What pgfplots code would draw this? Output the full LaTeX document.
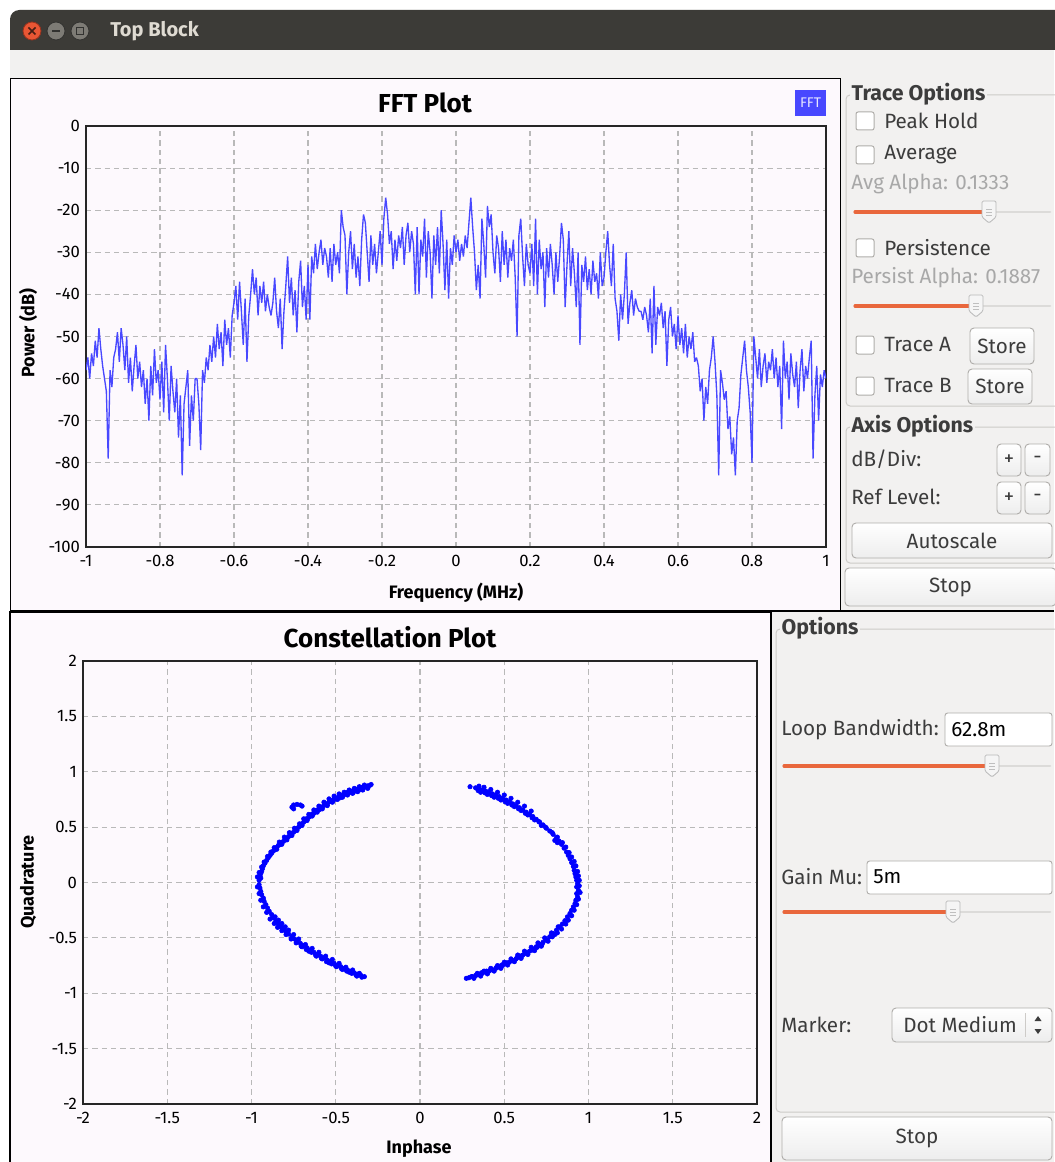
\documentclass[border=0pt]{standalone}
\usepackage{pgfplots}
\usepackage{pgfplotstable}
\pgfplotsset{compat=1.18}
\usepackage{fontspec}
\setmainfont{Fira Sans}
\definecolor{titlebar}{RGB}{60,59,55}
\definecolor{winbg}{RGB}{242,241,240}
\definecolor{plotbg}{RGB}{253,249,253}
\definecolor{gridc}{RGB}{185,185,185}
\definecolor{fftblue}{RGB}{72,72,255}
\definecolor{ubuorange}{RGB}{233,103,60}
\definecolor{txt}{RGB}{60,60,60}
\definecolor{dimtxt}{RGB}{168,168,168}
\definecolor{gbox}{RGB}{205,203,200}
\definecolor{btnb}{RGB}{175,173,170}
\definecolor{closered}{RGB}{232,86,52}
\definecolor{closeedge}{RGB}{150,50,30}
\definecolor{closex}{RGB}{70,30,20}
\definecolor{wbtn}{RGB}{125,123,117}
\definecolor{wbtnedge}{RGB}{50,50,48}
\definecolor{titletext}{RGB}{223,219,210}
\definecolor{fftlegtext}{RGB}{230,230,255}

\pgfplotstableread[row sep=\\]{
p\\
-58\\ -55\\ -60\\ -54\\ -57\\ -51\\ -55\\ -48\\ -53\\ -57\\
-60\\ -63\\ -79\\ -58\\ -62\\ -55\\ -53\\ -49\\ -56\\ -48\\
-52\\ -58\\ -50\\ -61\\ -55\\ -63\\ -57\\ -52\\ -60\\ -56\\
-62\\ -58\\ -66\\ -60\\ -70\\ -57\\ -64\\ -53\\ -61\\ -58\\
-65\\ -56\\ -68\\ -52\\ -60\\ -70\\ -57\\ -63\\ -68\\ -60\\
-74\\ -64\\ -83\\ -66\\ -62\\ -58\\ -76\\ -64\\ -70\\ -60\\
-60\\ -66\\ -77\\ -58\\ -61\\ -55\\ -58\\ -52\\ -56\\ -50\\
-55\\ -47\\ -53\\ -49\\ -57\\ -46\\ -52\\ -48\\ -55\\ -45\\
-42\\ -38\\ -46\\ -37\\ -44\\ -52\\ -41\\ -56\\ -45\\ -40\\
-34\\ -40\\ -36\\ -45\\ -38\\ -42\\ -37\\ -44\\ -40\\ -43\\
-45\\ -42\\ -36\\ -44\\ -48\\ -41\\ -53\\ -44\\ -38\\ -31\\
-42\\ -36\\ -45\\ -39\\ -49\\ -37\\ -32\\ -43\\ -38\\ -46\\
-33\\ -46\\ -31\\ -35\\ -28\\ -34\\ -30\\ -27\\ -33\\ -29\\
-31\\ -36\\ -29\\ -37\\ -28\\ -33\\ -30\\ -35\\ -20\\ -24\\
-26\\ -40\\ -30\\ -25\\ -34\\ -28\\ -36\\ -31\\ -38\\ -27\\
-21\\ -23\\ -30\\ -37\\ -26\\ -33\\ -28\\ -35\\ -30\\ -25\\
-33\\ -22\\ -17\\ -21\\ -28\\ -25\\ -34\\ -27\\ -32\\ -26\\
-29\\ -24\\ -33\\ -26\\ -23\\ -30\\ -25\\ -28\\ -40\\ -24\\
-40\\ -27\\ -31\\ -22\\ -36\\ -25\\ -30\\ -41\\ -26\\ -33\\
-24\\ -35\\ -20\\ -28\\ -39\\ -27\\ -41\\ -29\\ -33\\ -26\\
-30\\ -27\\ -32\\ -28\\ -31\\ -26\\ -29\\ -23\\ -17\\ -24\\
-30\\ -39\\ -33\\ -41\\ -22\\ -28\\ -36\\ -19\\ -24\\ -21\\
-30\\ -35\\ -26\\ -29\\ -37\\ -25\\ -33\\ -27\\ -36\\ -29\\
-32\\ -27\\ -36\\ -50\\ -26\\ -22\\ -31\\ -38\\ -28\\ -33\\
-35\\ -28\\ -38\\ -22\\ -40\\ -27\\ -34\\ -30\\ -43\\ -29\\
-36\\ -28\\ -33\\ -40\\ -30\\ -37\\ -31\\ -23\\ -27\\ -43\\
-33\\ -25\\ -38\\ -29\\ -35\\ -43\\ -30\\ -52\\ -33\\ -37\\
-31\\ -39\\ -34\\ -40\\ -32\\ -37\\ -35\\ -41\\ -30\\ -38\\
-36\\ -30\\ -25\\ -33\\ -38\\ -28\\ -41\\ -44\\ -51\\ -40\\
-46\\ -40\\ -30\\ -47\\ -42\\ -39\\ -45\\ -41\\ -43\\ -44\\
-44\\ -46\\ -43\\ -45\\ -49\\ -41\\ -54\\ -38\\ -52\\ -43\\
-45\\ -42\\ -48\\ -44\\ -57\\ -46\\ -43\\ -50\\ -47\\ -53\\
-45\\ -52\\ -48\\ -54\\ -47\\ -55\\ -50\\ -53\\ -49\\ -56\\
-55\\ -57\\ -63\\ -60\\ -70\\ -62\\ -66\\ -58\\ -55\\ -50\\
-56\\ -64\\ -83\\ -58\\ -61\\ -65\\ -63\\ -72\\ -69\\ -78\\
-74\\ -83\\ -70\\ -67\\ -59\\ -55\\ -51\\ -58\\ -62\\ -68\\
-80\\ -50\\ -55\\ -60\\ -53\\ -62\\ -57\\ -54\\ -61\\ -56\\
-58\\ -53\\ -60\\ -55\\ -62\\ -57\\ -72\\ -51\\ -60\\ -56\\
-65\\ -54\\ -59\\ -62\\ -56\\ -67\\ -58\\ -53\\ -63\\ -57\\
-60\\ -55\\ -51\\ -79\\ -64\\ -57\\ -70\\ -59\\ -62\\ -58\\
-60\\
}\ffttable

\tikzset{
  lbl/.style={anchor=west, inner sep=0pt, text=txt, font=\fontsize{15.5}{17}\selectfont},
  lblb/.style={anchor=west, inner sep=1pt, text=txt, fill=winbg, font=\bfseries\fontsize{16}{18}\selectfont},
  dim/.style={anchor=west, inner sep=0pt, text=dimtxt, font=\fontsize{15.5}{17}\selectfont},
  ttl/.style={font=\bfseries\fontsize{19.5}{22}\selectfont, text=black},
  axl/.style={font=\bfseries\fontsize{13.5}{15}\selectfont, text=black},
}
\newcommand\chk[1]{\draw[rounded corners=1.5pt, draw=btnb, fill=white, line width=0.75pt] (856,#1-9) rectangle (874,#1+9);}
\newcommand\slider[4]{%
  \draw[line cap=round, line width=2.2pt, color=gbox!70] (#2,#1) -- (#3,#1);
  \draw[line cap=round, line width=2.4pt, color=ubuorange] (#2,#1) -- (#4,#1);
  \filldraw[fill=gray!8, draw=gray!55, line width=0.6pt, rounded corners=1pt] (#4-7,#1-11) -- (#4+7,#1-11) -- (#4+7,#1+5) -- (#4,#1+11) -- (#4-7,#1+5) -- cycle;
  \draw[gray!50, line width=0.4pt] (#4-3,#1-3) -- (#4+3,#1-3) (#4-3,#1) -- (#4+3,#1) (#4-3,#1+3) -- (#4+3,#1+3);}
\newcommand\btn[5]{%
  \draw[draw=btnb, line width=0.7pt, rounded corners=3pt, top color=white, bottom color=gray!14] (#1,#2) rectangle (#3,#4);
  \node[text=txt, inner sep=0pt, font=\fontsize{15.5}{17}\selectfont] at ({(#1+#3)/2},{(#2+#4)/2}) {#5};}

\begin{document}
\begin{tikzpicture}
\begin{scope}[x=0.75pt,y=-0.75pt]
\useasboundingbox (0,0) rectangle (1054,1162);
\fill[white] (0,0) rectangle (1054,1162);
\fill[winbg] (10,45) rectangle (1054,1162);
% title bar
\fill[titlebar] (10,50) [rounded corners=7pt] -- (10,10) -- (1070,10) [sharp corners] -- (1070,50) -- cycle;
\filldraw[fill=closered, draw=closeedge, line width=0.6pt] (32,31) circle (9);
\draw[closex, line width=1.2pt] (28.5,27.5) -- (35.5,34.5) (28.5,34.5) -- (35.5,27.5);
\filldraw[fill=wbtn, draw=wbtnedge, line width=0.6pt] (56,31) circle (9);
\draw[wbtnedge, line width=1.3pt] (52,31) -- (60,31);
\filldraw[fill=wbtn, draw=wbtnedge, line width=0.6pt] (80,31) circle (9);
\draw[wbtnedge, line width=1pt] (76.5,27.5) rectangle (83.5,34.5);
\node[anchor=west, inner sep=0pt, text=titletext, font=\bfseries\fontsize{15}{17}\selectfont] at (110,31) {Top Block};
% widgets
\filldraw[fill=plotbg, draw=black, line width=0.75pt] (10,79) rectangle (840,610);
\filldraw[fill=plotbg, draw=black, line width=1.5pt] (10,612) rectangle (771,1164);
\draw[black, line width=1.5pt] (10,611) -- (1054,611);
% FFT texts
\node[ttl] at (425,103) {FFT Plot};
\fill[fftblue] (795,90) rectangle (826,116);
\node[text=fftlegtext, inner sep=0pt, font=\fontsize{10.5}{12}\selectfont] at (810.5,103) {FFT};
\node[axl, rotate=90] at (28,333) {Power (dB)};
\node[axl] at (456,593) {Frequency (MHz)};
% Constellation texts
\node[ttl] at (390,637) {Constellation Plot};
\node[axl, rotate=90] at (28,882) {Quadrature};
\node[axl] at (419,1149) {Inphase};
% Trace options panel
\draw[gbox, rounded corners=3pt, line width=0.75pt] (846,95) rectangle (1062,406);
\node[lblb] at (850,94) {Trace Options};
\chk{121} \node[lbl] at (884,121) {Peak Hold};
\chk{155} \node[lbl] at (884,155) {Average};
\node[dim] at (851,184) {Avg Alpha: 0.1333};
\slider{212}{855}{1050}{989}
\chk{248} \node[lbl] at (884,248) {Persistence};
\node[dim] at (851,278) {Persist Alpha: 0.1887};
\slider{306}{855}{1050}{976}
\chk{345} \node[lbl] at (884,345) {Trace A};
\btn{970}{328}{1034}{364}{Store}
\chk{386} \node[lbl] at (884,386) {Trace B};
\btn{968}{369}{1032}{404}{Store}
\draw[gbox, rounded corners=3pt, line width=0.75pt] (846,427) rectangle (1062,563);
\node[lblb] at (850,426) {Axis Options};
\node[lbl] at (851,459) {dB/Div:};
\btn{997}{444}{1021}{476}{+}
\btn{1025}{444}{1050}{476}{-}
\node[lbl] at (851,497) {Ref Level:};
\btn{997}{482}{1021}{514}{+}
\btn{1025}{482}{1050}{514}{-}
\btn{852}{523}{1052}{558}{Autoscale}
\btn{845}{568}{1056}{606}{Stop}
% Options panel
\draw[gbox, rounded corners=3pt, line width=0.75pt] (776,629) rectangle (1062,1112);
\node[lblb] at (780,628) {Options};
\node[lbl] at (781,730) {Loop Bandwidth:};
\draw[btnb, fill=white, rounded corners=2pt, line width=0.7pt] (945,713) rectangle (1052,746);
\node[lbl, text=black] at (951,730) {62.8m};
\slider{766}{784}{1050}{992}
\node[lbl] at (781,877) {Gain Mu:};
\draw[btnb, fill=white, rounded corners=2pt, line width=0.7pt] (867,861) rectangle (1052,894);
\node[lbl, text=black] at (873,877) {5m};
\slider{912}{784}{1050}{953}
\node[lbl] at (781,1025) {Marker:};
\btn{892}{1008}{1052}{1042}{}
\node[lbl] at (903,1025) {Dot Medium};
\draw[gbox, line width=0.6pt] (1025,1013) -- (1025,1037);
\fill[txt] (1034.5,1021) -- (1041.5,1021) -- (1038,1016) -- cycle;
\fill[txt] (1034.5,1029) -- (1041.5,1029) -- (1038,1034) -- cycle;
\btn{782}{1117}{1052}{1160}{Stop}
\end{scope}

\begin{axis}[
  at={(64.5pt,-94.5pt)}, anchor=north west, scale only axis,
  width=555pt, height=315.75pt,
  xmin=-1, xmax=1, ymin=-100, ymax=0,
  xtick={-1,-0.8,-0.6,-0.4,-0.2,0,0.2,0.4,0.6,0.8,1},
  ytick={-100,-90,-80,-70,-60,-50,-40,-30,-20,-10,0},
  grid=major,
  major grid style={gridc, dash pattern=on 4pt off 3pt, line width=0.8pt},
  axis line style={black!85, line width=1.3pt},
  major tick length=0pt,
  tick label style={font=\fontsize{12.5}{14}\selectfont, text=black},
  xticklabel style={yshift=-2.5pt},
  yticklabel style={xshift=-1pt},
  /pgf/number format/assume math mode=true,
]
\addplot[fftblue, line width=1pt, line join=bevel, mark=none] table[x expr=\coordindex*0.005-1, y=p] {\ffttable};
\end{axis}

\begin{axis}[
  at={(62.25pt,-495.75pt)}, anchor=north west, scale only axis,
  width=505.5pt, height=332.25pt,
  xmin=-2, xmax=2, ymin=-2, ymax=2,
  xtick={-2,-1.5,-1,-0.5,0,0.5,1,1.5,2},
  ytick={-2,-1.5,-1,-0.5,0,0.5,1,1.5,2},
  grid=major,
  major grid style={gridc, dash pattern=on 4pt off 3pt, line width=0.8pt},
  axis line style={black!85, line width=1.3pt},
  major tick length=0pt,
  tick label style={font=\fontsize{12.5}{14}\selectfont, text=black},
  xticklabel style={yshift=-2.5pt},
  yticklabel style={xshift=-1pt},
  /pgf/number format/assume math mode=true,
]
\addplot[only marks, mark=*, mark size=1.7pt, color=blue, mark options={draw=none, fill=blue}] coordinates {
(-0.29,0.885) (-0.30,0.875) (-0.31,0.872) (-0.32,0.868) (-0.33,0.860) (-0.34,0.862) (-0.35,0.850) (-0.36,0.848) (-0.37,0.840) (-0.38,0.842)
(-0.39,0.830) (-0.40,0.826) (-0.41,0.822) (-0.42,0.812) (-0.43,0.815) (-0.44,0.800) (-0.45,0.797) (-0.46,0.790) (-0.47,0.775) (-0.48,0.780)
(-0.49,0.765) (-0.50,0.755) (-0.51,0.760) (-0.52,0.740) (-0.53,0.735) (-0.54,0.728) (-0.55,0.712) (-0.56,0.705) (-0.57,0.698) (-0.58,0.682)
(-0.59,0.676) (-0.60,0.662) (-0.61,0.655) (-0.62,0.640) (-0.63,0.628) (-0.64,0.618) (-0.65,0.600) (-0.66,0.590) (-0.67,0.570) (-0.68,0.560)
(-0.69,0.545) (-0.70,0.530) (-0.71,0.515) (-0.72,0.500) (-0.73,0.486) (-0.74,0.470) (-0.75,0.455) (-0.76,0.440) (-0.77,0.425) (-0.78,0.415)
(-0.79,0.400) (-0.80,0.386) (-0.81,0.372) (-0.82,0.360) (-0.83,0.345) (-0.84,0.335) (-0.85,0.318) (-0.86,0.300) (-0.87,0.285) (-0.88,0.265)
(-0.89,0.245) (-0.90,0.225) (-0.91,0.200) (-0.92,0.175) (-0.93,0.150) (-0.935,0.125) (-0.94,0.100) (-0.945,0.080) (-0.95,0.060) (-0.945,0.040) (-0.955,0.020)
(-0.31,0.85) (-0.34,0.835) (-0.37,0.82) (-0.40,0.805) (-0.43,0.79) (-0.46,0.77) (-0.49,0.75) (-0.52,0.725) (-0.55,0.695) (-0.58,0.665)
(-0.61,0.635) (-0.64,0.600) (-0.67,0.560) (-0.70,0.515) (-0.73,0.470) (-0.76,0.425) (-0.79,0.385) (-0.82,0.345) (-0.85,0.300)
(-0.33,0.88) (-0.36,0.865) (-0.39,0.85) (-0.42,0.835) (-0.45,0.815) (-0.48,0.80) (-0.51,0.78) (-0.54,0.755) (-0.57,0.725) (-0.60,0.690)
(-0.63,0.655) (-0.66,0.615) (-0.69,0.575)
(-0.315,0.86) (-0.355,0.838) (-0.395,0.815) (-0.435,0.795) (-0.475,0.765) (-0.515,0.74) (-0.555,0.70) (-0.595,0.66) (-0.635,0.615) (-0.675,0.575)
(-0.715,0.53) (-0.745,0.49) (-0.775,0.45) (-0.805,0.41) (-0.835,0.365) (-0.865,0.315) (-0.885,0.275) (-0.905,0.235) (-0.925,0.185) (-0.94,0.14)
(-0.955,0.09) (-0.965,0.05)
(-0.76,0.68) (-0.75,0.70) (-0.73,0.705) (-0.71,0.70) (-0.70,0.69) (-0.75,0.665)
(-0.955,-0.02) (-0.95,-0.05) (-0.945,-0.08) (-0.94,-0.11) (-0.93,-0.14) (-0.925,-0.17) (-0.915,-0.20) (-0.905,-0.23) (-0.895,-0.26) (-0.88,-0.29)
(-0.87,-0.32) (-0.855,-0.35) (-0.84,-0.375) (-0.825,-0.40) (-0.81,-0.42) (-0.795,-0.445) (-0.78,-0.465) (-0.76,-0.49) (-0.745,-0.51) (-0.73,-0.53)
(-0.71,-0.55) (-0.69,-0.57) (-0.67,-0.59) (-0.65,-0.61) (-0.63,-0.63) (-0.61,-0.65) (-0.59,-0.665) (-0.57,-0.68) (-0.55,-0.70) (-0.53,-0.715)
(-0.51,-0.73) (-0.49,-0.745) (-0.47,-0.76) (-0.45,-0.775) (-0.43,-0.79) (-0.41,-0.805) (-0.39,-0.815) (-0.37,-0.83) (-0.35,-0.84) (-0.33,-0.85)
(-0.86,-0.31) (-0.84,-0.34) (-0.82,-0.37) (-0.80,-0.40) (-0.78,-0.43) (-0.75,-0.47) (-0.72,-0.51)
(-0.70,-0.58) (-0.66,-0.62) (-0.62,-0.655) (-0.58,-0.69) (-0.54,-0.725) (-0.50,-0.755) (-0.46,-0.785) (-0.42,-0.81) (-0.38,-0.835)
(-0.68,-0.56) (-0.64,-0.595) (-0.60,-0.63) (-0.56,-0.665) (-0.52,-0.695) (-0.48,-0.73) (-0.44,-0.765) (-0.40,-0.79) (-0.36,-0.82)
(-0.965,-0.04) (-0.955,-0.10) (-0.945,-0.16) (-0.93,-0.22) (-0.91,-0.27) (-0.89,-0.33) (-0.865,-0.37) (-0.845,-0.405) (-0.82,-0.435) (-0.795,-0.47)
(-0.765,-0.51) (-0.735,-0.545) (-0.705,-0.575) (-0.675,-0.605) (-0.645,-0.63) (-0.615,-0.665) (-0.585,-0.685) (-0.555,-0.715) (-0.525,-0.735) (-0.495,-0.76)
(-0.465,-0.78) (-0.435,-0.80) (-0.405,-0.82) (-0.375,-0.845) (-0.345,-0.855)
(0.297,0.865)
(0.33,0.855) (0.35,0.845) (0.37,0.835) (0.39,0.825) (0.41,0.815) (0.43,0.80) (0.45,0.79) (0.47,0.775) (0.49,0.76) (0.51,0.745)
(0.53,0.73) (0.55,0.71) (0.57,0.695) (0.59,0.675) (0.61,0.655) (0.63,0.635) (0.65,0.615) (0.67,0.595) (0.69,0.57) (0.71,0.545)
(0.73,0.52) (0.75,0.49) (0.77,0.465) (0.79,0.435) (0.81,0.405) (0.825,0.375) (0.84,0.345) (0.855,0.31) (0.87,0.275) (0.88,0.245)
(0.89,0.215) (0.90,0.18) (0.91,0.145) (0.915,0.11) (0.92,0.08) (0.925,0.05) (0.93,0.02)
(0.36,0.815) (0.40,0.795) (0.44,0.77) (0.48,0.745) (0.52,0.715) (0.56,0.685) (0.60,0.65) (0.64,0.61) (0.68,0.565) (0.72,0.515)
(0.35,0.87) (0.38,0.86) (0.42,0.84) (0.46,0.815) (0.50,0.79) (0.54,0.76) (0.58,0.725) (0.62,0.69) (0.66,0.645)
(0.80,0.38) (0.815,0.36)
(0.345,0.83) (0.385,0.81) (0.425,0.785) (0.465,0.76) (0.505,0.73) (0.545,0.70) (0.585,0.665) (0.625,0.625) (0.665,0.585) (0.705,0.55)
(0.745,0.50) (0.785,0.45) (0.815,0.41) (0.845,0.36) (0.865,0.32) (0.885,0.27) (0.90,0.23) (0.915,0.19) (0.925,0.15) (0.935,0.10)
(0.94,0.06) (0.945,0.02)
(0.935,-0.01) (0.93,-0.04) (0.94,-0.07) (0.93,-0.10) (0.935,-0.13) (0.925,-0.16)
(0.92,-0.19) (0.91,-0.22) (0.90,-0.25) (0.89,-0.28) (0.875,-0.31) (0.86,-0.345) (0.845,-0.375) (0.83,-0.40) (0.81,-0.43) (0.79,-0.46)
(0.77,-0.49) (0.75,-0.515) (0.73,-0.54) (0.71,-0.56) (0.69,-0.58) (0.67,-0.60) (0.65,-0.62) (0.63,-0.64) (0.61,-0.655) (0.59,-0.67)
(0.57,-0.69) (0.55,-0.705) (0.53,-0.72) (0.51,-0.735) (0.49,-0.75) (0.47,-0.765) (0.45,-0.775) (0.43,-0.79) (0.41,-0.80) (0.39,-0.81)
(0.37,-0.82) (0.35,-0.83) (0.33,-0.84) (0.31,-0.85) (0.29,-0.86) (0.275,-0.865)
(0.80,-0.47) (0.76,-0.53) (0.72,-0.575) (0.68,-0.615) (0.64,-0.65) (0.60,-0.685) (0.56,-0.715) (0.52,-0.745) (0.48,-0.775) (0.44,-0.80)
(0.40,-0.825) (0.36,-0.845) (0.32,-0.865)
(0.82,-0.40) (0.78,-0.455) (0.74,-0.50) (0.70,-0.545) (0.66,-0.585) (0.62,-0.62) (0.58,-0.655) (0.54,-0.69) (0.50,-0.72) (0.46,-0.75)
(0.42,-0.775) (0.38,-0.80) (0.34,-0.82)
(0.945,-0.03) (0.95,-0.09) (0.94,-0.15) (0.93,-0.20) (0.915,-0.25) (0.90,-0.30) (0.88,-0.34) (0.865,-0.375) (0.84,-0.42) (0.815,-0.455)
(0.785,-0.49) (0.755,-0.525) (0.725,-0.555) (0.695,-0.585) (0.665,-0.61) (0.635,-0.635) (0.605,-0.66) (0.575,-0.68) (0.545,-0.705) (0.515,-0.725)
(0.485,-0.745) (0.455,-0.765) (0.425,-0.785) (0.395,-0.80) (0.365,-0.815) (0.335,-0.835) (0.305,-0.85)
};
\end{axis}
\end{tikzpicture}
\end{document}
